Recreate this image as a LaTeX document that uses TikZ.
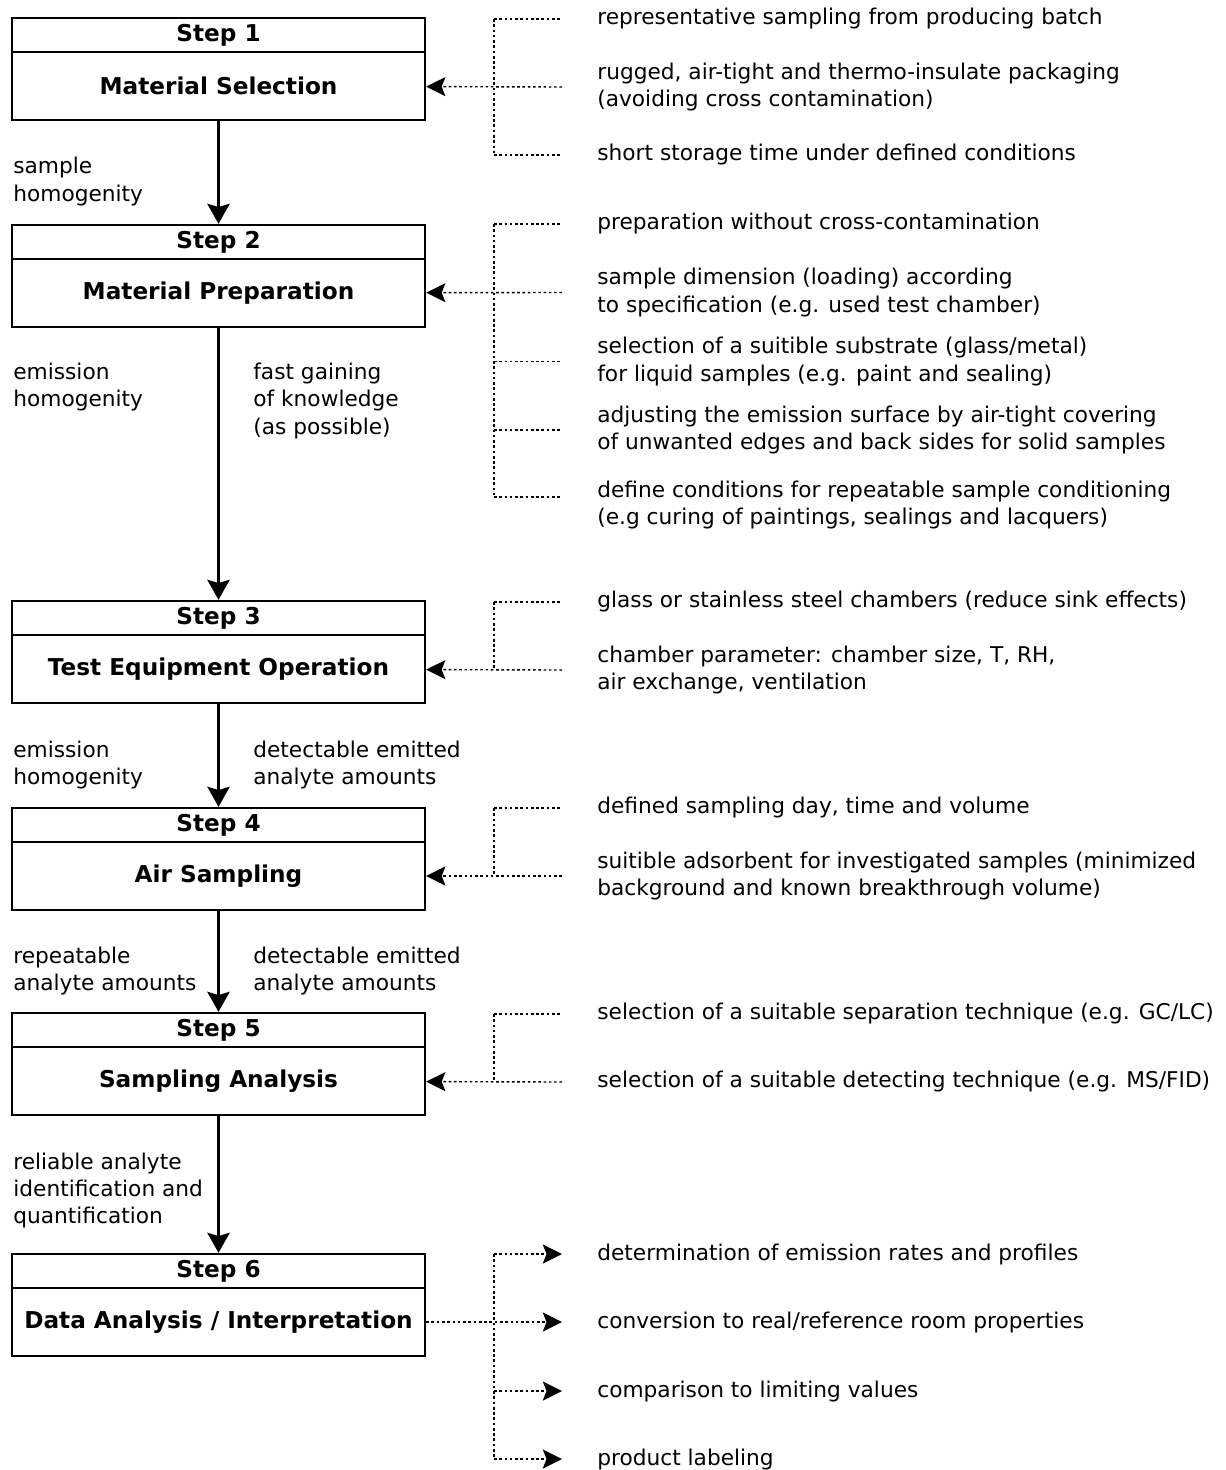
\documentclass[tikz,border=0pt]{standalone}
\usepackage{fontspec}
\setmainfont{DejaVu Sans}
\usetikzlibrary{arrows.meta, positioning}

\tikzset{
    stephead/.style={draw, line width=1.4pt, minimum width=8.26cm, minimum height=0.68cm,
        inner sep=0pt, font=\fontsize{13.2}{15}\selectfont\bfseries},
    stepbody/.style={draw, line width=1.4pt, minimum width=8.26cm, minimum height=1.36cm,
        inner sep=0pt, font=\fontsize{13.2}{15}\selectfont\bfseries},
    note/.style={anchor=west, align=left, inner sep=0pt, font=\fontsize{12.35}{15.6}\selectfont},
    bighead/.tip={Stealth[length=11.5pt, width=13pt, inset=2pt, line width=0pt]},
    smallhead/.tip={Stealth[length=11pt, width=11pt, inset=2.2pt, line width=0pt]},
    flow/.style={line width=1.4pt, -bighead},
    dots/.style={line width=0.8pt, dash pattern=on 1.5pt off 1.5pt},
    dotarrow/.style={dots, -smallhead}
}

\begin{document}
\begin{tikzpicture}[x=0.02cm, y=-0.02cm]

    \useasboundingbox (0,0) rectangle (1225,1470);

    % Steps
    \node[stephead] (h1) at (218.5,35) {Step 1};
    \node[stepbody] (s1) at (218.5,86) {Material Selection};
    \node[stephead] (h2) at (218.5,242) {Step 2};
    \node[stepbody] (s2) at (218.5,293) {Material Preparation};
    \node[stephead] (h3) at (218.5,618) {Step 3};
    \node[stepbody] (s3) at (218.5,669) {Test Equipment Operation};
    \node[stephead] (h4) at (218.5,825) {Step 4};
    \node[stepbody] (s4) at (218.5,876) {Air Sampling};
    \node[stephead] (h5) at (218.5,1030) {Step 5};
    \node[stepbody] (s5) at (218.5,1081) {Sampling Analysis};
    \node[stephead] (h6) at (218.5,1271) {Step 6};
    \node[stepbody] (s6) at (218.5,1322) {Data Analysis / Interpretation};

    % Flow between steps
    \draw[flow] (s1) -- (h2);
    \draw[flow] (s2) -- (h3);
    \draw[flow] (s3) -- (h4);
    \draw[flow] (s4) -- (h5);
    \draw[flow] (s5) -- (h6);

    % Requirements beside the flow
    \node[note] (l1) at (13,181.5) {sample\\homogenity};
    \node[note] (l2) at (13,387) {emission\\homogenity};
    \node[note] (r2) at (253,401) {fast gaining\\of knowledge\\(as possible)};
    \node[note] (l3) at (13,765) {emission\\homogenity};
    \node[note] (r3) at (253,765) {detectable emitted\\analyte amounts};
    \node[note] (l4) at (13,971) {repeatable\\analyte amounts};
    \node[note] (r4) at (253,971) {detectable emitted\\analyte amounts};
    \node[note] (l5) at (13,1190.5) {reliable analyte\\identification and\\quantification};

    % Step 1 notes
    \node[note] (t11) at (597,19) {representative sampling from producing batch};
    \node[note] (t12) at (597,87) {rugged, air-tight and thermo-insulate packaging\\(avoiding cross contamination)};
    \node[note] (t13) at (597,155) {short storage time under defined conditions};
    \coordinate (b1) at (494,86);
    \draw[dots] (b1 |- t11.west) -- (b1 |- t13.west);
    \draw[dots] (b1 |- t11.west) -- ([xshift=-0.7cm]t11.west);
    \draw[dots] (b1 |- t13.west) -- ([xshift=-0.7cm]t13.west);
    \draw[dotarrow] ([xshift=-0.7cm]t12.west) -- (s1);

    % Step 2 notes
    \node[note] (t21) at (597,224) {preparation without cross-contamination};
    \node[note] (t22) at (597,292.5) {sample dimension (loading) according\\to specification (e.g. used test chamber)};
    \node[note] (t23) at (597,361.5) {selection of a suitible substrate (glass/metal)\\for liquid samples (e.g. paint and sealing)};
    \node[note] (t24) at (597,430) {adjusting the emission surface by air-tight covering\\of unwanted edges and back sides for solid samples};
    \node[note] (t25) at (597,505) {define conditions for repeatable sample conditioning\\(e.g curing of paintings, sealings and lacquers)};
    \coordinate (b2) at (494,292);
    \draw[dots] (b2 |- t21.west) -- ([yshift=0.16cm]b2 |- t25.west);
    \draw[dots] (b2 |- t21.west) -- ([xshift=-0.7cm]t21.west);
    \draw[dots] (b2 |- t23.west) -- ([xshift=-0.7cm]t23.west);
    \draw[dots] (b2 |- t24.west) -- ([xshift=-0.7cm]t24.west);
    \draw[dots] ([yshift=0.16cm]b2 |- t25.west) -- ([xshift=-0.7cm, yshift=0.16cm]t25.west);
    \draw[dotarrow] ([xshift=-0.7cm]t22.west) -- (s2);

    % Step 3 notes
    \node[note] (t31) at (597,602) {glass or stainless steel chambers (reduce sink effects)};
    \node[note] (t32) at (597,670) {chamber parameter: chamber size, T, RH,\\air exchange, ventilation};
    \coordinate (b3) at (494,669);
    \draw[dots] (b3 |- t31.west) -- (b3);
    \draw[dots] (b3 |- t31.west) -- ([xshift=-0.7cm]t31.west);
    \draw[dotarrow] ([xshift=-0.7cm]t32.west) -- (s3);

    % Step 4 notes
    \node[note] (t41) at (597,808) {defined sampling day, time and volume};
    \node[note] (t42) at (597,876) {suitible adsorbent for investigated samples (minimized\\background and known breakthrough volume)};
    \coordinate (b4) at (494,876);
    \draw[dots] (b4 |- t41.west) -- (b4);
    \draw[dots] (b4 |- t41.west) -- ([xshift=-0.7cm]t41.west);
    \draw[dotarrow] ([xshift=-0.7cm]t42.west) -- (s4);

    % Step 5 notes
    \node[note] (t51) at (597,1014) {selection of a suitable separation technique (e.g. GC/LC)};
    \node[note] (t52) at (597,1082) {selection of a suitable detecting technique (e.g. MS/FID)};
    \coordinate (b5) at (494,1081);
    \draw[dots] (b5 |- t51.west) -- (b5);
    \draw[dots] (b5 |- t51.west) -- ([xshift=-0.7cm]t51.west);
    \draw[dotarrow] ([xshift=-0.7cm]t52.west) -- (s5);

    % Step 6 results
    \node[note] (t61) at (597,1254) {determination of emission rates and profiles};
    \node[note] (t62) at (597,1322) {conversion to real/reference room properties};
    \node[note] (t63) at (597,1391) {comparison to limiting values};
    \node[note] (t64) at (597,1459) {product labeling};
    \coordinate (b6) at (494,1322);
    \draw[dotarrow] (s6) -- ([xshift=-0.7cm]t62.west);
    \draw[dots] (b6 |- t61.west) -- (b6 |- t64.west);
    \draw[dotarrow] (b6 |- t61.west) -- ([xshift=-0.7cm]t61.west);
    \draw[dotarrow] (b6 |- t63.west) -- ([xshift=-0.7cm]t63.west);
    \draw[dotarrow] (b6 |- t64.west) -- ([xshift=-0.7cm]t64.west);
\end{tikzpicture}
\end{document}
